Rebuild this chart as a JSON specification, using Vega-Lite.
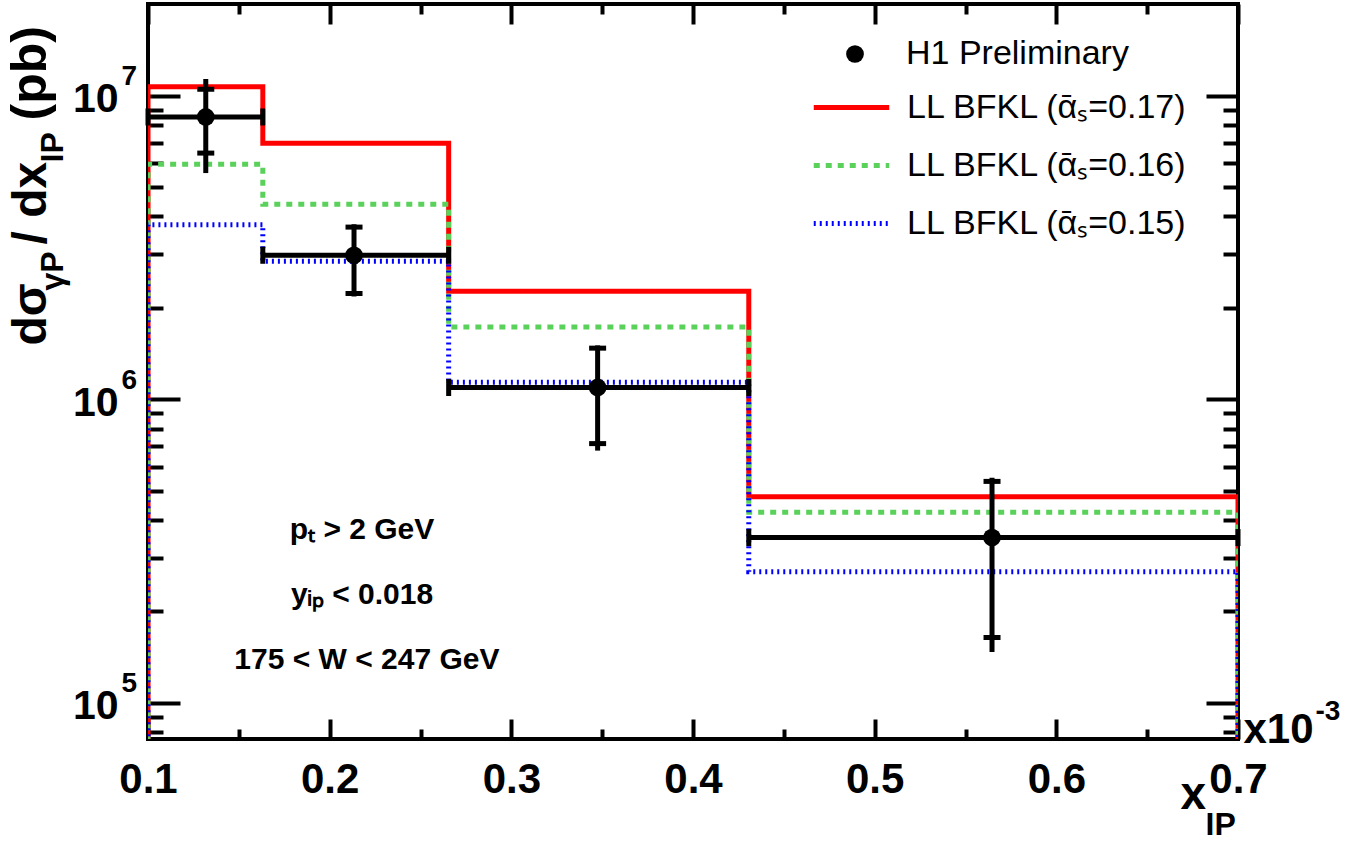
{
  "$schema": "https://vega.github.io/schema/vega-lite/v6.json",
  "width": 1090,
  "height": 735,
  "autosize": "none",
  "padding": {"left": 148, "top": 4, "right": 134, "bottom": 103},
  "background": "#ffffff",
  "datasets": {
    "hist": [
      {"series": "LL BFKL (ᾱₛ=0.17)", "i": 0, "xe": 0.1, "v": 10000},
      {"series": "LL BFKL (ᾱₛ=0.17)", "i": 1, "xe": 0.1, "v": 10710000},
      {"series": "LL BFKL (ᾱₛ=0.17)", "i": 2, "xe": 0.1632, "v": 6970000},
      {"series": "LL BFKL (ᾱₛ=0.17)", "i": 3, "xe": 0.2655, "v": 2270000},
      {"series": "LL BFKL (ᾱₛ=0.17)", "i": 4, "xe": 0.4307, "v": 477000},
      {"series": "LL BFKL (ᾱₛ=0.17)", "i": 5, "xe": 0.7, "v": 477000},
      {"series": "LL BFKL (ᾱₛ=0.17)", "i": 6, "xe": 0.7, "v": 10000},
      {"series": "LL BFKL (ᾱₛ=0.16)", "i": 0, "xe": 0.1, "v": 10000},
      {"series": "LL BFKL (ᾱₛ=0.16)", "i": 1, "xe": 0.1, "v": 5940000},
      {"series": "LL BFKL (ᾱₛ=0.16)", "i": 2, "xe": 0.1632, "v": 4390000},
      {"series": "LL BFKL (ᾱₛ=0.16)", "i": 3, "xe": 0.2655, "v": 1728000},
      {"series": "LL BFKL (ᾱₛ=0.16)", "i": 4, "xe": 0.4307, "v": 424000},
      {"series": "LL BFKL (ᾱₛ=0.16)", "i": 5, "xe": 0.7, "v": 424000},
      {"series": "LL BFKL (ᾱₛ=0.16)", "i": 6, "xe": 0.7, "v": 10000},
      {"series": "LL BFKL (ᾱₛ=0.15)", "i": 0, "xe": 0.1, "v": 10000},
      {"series": "LL BFKL (ᾱₛ=0.15)", "i": 1, "xe": 0.1, "v": 3760000},
      {"series": "LL BFKL (ᾱₛ=0.15)", "i": 2, "xe": 0.1632, "v": 2850000},
      {"series": "LL BFKL (ᾱₛ=0.15)", "i": 3, "xe": 0.2655, "v": 1138000},
      {"series": "LL BFKL (ᾱₛ=0.15)", "i": 4, "xe": 0.4307, "v": 270000},
      {"series": "LL BFKL (ᾱₛ=0.15)", "i": 5, "xe": 0.7, "v": 270000},
      {"series": "LL BFKL (ᾱₛ=0.15)", "i": 6, "xe": 0.7, "v": 10000}
    ],
    "meas": [
      {"label": "H1 Preliminary", "x": 0.1318, "lo": 0.1, "hi": 0.1632, "v": 8510000, "stat_lo": 6470000, "stat_hi": 10500000, "tot_lo": 5560000, "tot_hi": 11350000},
      {"label": "H1 Preliminary", "x": 0.2134, "lo": 0.1632, "hi": 0.2655, "v": 2980000, "stat_lo": 2230000, "stat_hi": 3690000, "tot_lo": 2180000, "tot_hi": 3770000},
      {"label": "H1 Preliminary", "x": 0.3475, "lo": 0.2655, "hi": 0.4307, "v": 1093000, "stat_lo": 714000, "stat_hi": 1473000, "tot_lo": 677000, "tot_hi": 1504000},
      {"label": "H1 Preliminary", "x": 0.5646, "lo": 0.4307, "hi": 0.7, "v": 350000, "stat_lo": 164000, "stat_hi": 536000, "tot_lo": 147000, "tot_hi": 551000}
    ],
    "notes": [
      {"x": 0.2178, "y": 371000, "text": "pₜ > 2 GeV"},
      {"x": 0.2178, "y": 226700, "text": "yᵢₚ < 0.018"},
      {"x": 0.2205, "y": 138500, "text": "175 < W < 247 GeV"}
    ]
  },
  "resolve": {"axis": {"x": "independent", "y": "independent"}},
  "layer": [
    {
      "data": {"name": "hist"},
      "mark": {"type": "line", "interpolate": "step-after", "strokeWidth": 5, "strokeCap": "butt", "clip": true},
      "encoding": {
        "x": {"field": "xe", "type": "quantitative",
          "scale": {"domain": [0.1, 0.7], "nice": false, "zero": false},
          "axis": {"orient": "bottom", "values": [0.1, 0.2, 0.3, 0.4, 0.5, 0.6, 0.7], "format": ".1f", "tickSize": -20, "labelFlush": false, "labelPadding": 40, "labelFontSize": 42, "labelBaseline": "top", "title": "x", "titleFontSize": 46, "titleX": 1032, "titleY": 69, "titleAlign": "left", "titleBaseline": "alphabetic", "titleAnchor": null}},
        "y": {"field": "v", "type": "quantitative",
          "scale": {"type": "log", "domain": [75930, 20050000], "nice": false},
          "axis": {"orient": "left", "values": [100000, 1000000, 10000000], "tickSize": -32, "labelPadding": 62, "labelFontSize": 41, "labelOffset": 4, "labelBaseline": "middle", "labelExpr": "'10'", "title": "dσ", "titleFontSize": 48, "titleX": -103, "titleY": 341, "titleAngle": 270, "titleAlign": "left", "titleBaseline": "alphabetic", "titleAnchor": null}},
        "order": {"field": "i", "type": "quantitative"},
        "color": {"field": "series", "type": "nominal",
          "scale": {"domain": ["LL BFKL (ᾱₛ=0.17)", "LL BFKL (ᾱₛ=0.16)", "LL BFKL (ᾱₛ=0.15)"], "range": ["#ff0000", "#5ad15a", "#0000ff"]},
          "legend": {"orient": "none", "legendX": 663, "legendY": 63, "title": null, "symbolType": "stroke", "symbolSize": 5700, "symbolStrokeWidth": 5, "labelFont": "Liberation Sans", "labelFontSize": 34, "labelColor": "#000", "labelOffset": 15, "rowPadding": 0}},
        "strokeDash": {"field": "series", "type": "nominal",
          "scale": {"domain": ["LL BFKL (ᾱₛ=0.17)", "LL BFKL (ᾱₛ=0.16)", "LL BFKL (ᾱₛ=0.15)"], "range": [[1, 0], [6, 6], [2, 4]]},
          "legend": {"orient": "none", "legendX": 663, "legendY": 63, "title": null, "symbolType": "stroke", "symbolSize": 5700, "symbolStrokeWidth": 5, "labelFont": "Liberation Sans", "labelFontSize": 34, "labelColor": "#000", "labelOffset": 15, "rowPadding": 0}}
      }
    },
    {
      "data": {"name": "meas"},
      "mark": {"type": "rule", "strokeWidth": 5, "color": "#000"},
      "encoding": {
        "x": {"field": "lo", "type": "quantitative",
          "scale": {"domain": [0.1, 0.7], "nice": false, "zero": false},
          "axis": {"orient": "bottom", "values": [0.15, 0.25, 0.35, 0.45, 0.55, 0.65], "tickSize": -10, "labels": false, "title": "IP", "titleFontSize": 32, "titleX": 1057, "titleY": 95, "titleAlign": "left", "titleBaseline": "alphabetic", "titleAnchor": null}},
        "x2": {"field": "hi"},
        "y": {"field": "v", "type": "quantitative",
          "scale": {"type": "log", "domain": [75930, 20050000], "nice": false},
          "axis": {"orient": "left", "values": [80000, 90000, 200000, 300000, 400000, 500000, 600000, 700000, 800000, 900000, 2000000, 3000000, 4000000, 5000000, 6000000, 7000000, 8000000, 9000000], "tickSize": -15, "labels": false, "title": "γP", "titleFontSize": 32, "titleX": -86, "titleY": 286, "titleAngle": 270, "titleAlign": "left", "titleBaseline": "alphabetic", "titleAnchor": null}}
      }
    },
    {
      "data": {"name": "meas"},
      "mark": {"type": "rule", "strokeWidth": 5, "color": "#000"},
      "encoding": {
        "x": {"field": "x", "type": "quantitative",
          "scale": {"domain": [0.1, 0.7], "nice": false, "zero": false},
          "axis": {"orient": "top", "values": [0.1, 0.2, 0.3, 0.4, 0.5, 0.6, 0.7], "tickSize": -20, "labels": false, "title": null}},
        "y": {"field": "tot_lo", "type": "quantitative",
          "scale": {"type": "log", "domain": [75930, 20050000], "nice": false},
          "axis": {"orient": "right", "values": [100000, 1000000, 10000000], "tickSize": -32, "labels": false, "title": null}},
        "y2": {"field": "tot_hi"}
      }
    },
    {
      "data": {"name": "meas"},
      "transform": [{"fold": ["stat_lo", "stat_hi"], "as": ["kind", "sv"]}],
      "mark": {"type": "tick", "orient": "horizontal", "size": 17, "thickness": 5, "color": "#000", "opacity": 1},
      "encoding": {
        "x": {"field": "x", "type": "quantitative",
          "scale": {"domain": [0.1, 0.7], "nice": false, "zero": false},
          "axis": {"orient": "top", "values": [0.15, 0.25, 0.35, 0.45, 0.55, 0.65], "tickSize": -10, "labels": false, "title": null}},
        "y": {"field": "sv", "type": "quantitative",
          "scale": {"type": "log", "domain": [75930, 20050000], "nice": false},
          "axis": {"orient": "right", "values": [80000, 90000, 200000, 300000, 400000, 500000, 600000, 700000, 800000, 900000, 2000000, 3000000, 4000000, 5000000, 6000000, 7000000, 8000000, 9000000], "tickSize": -15, "labels": false, "title": null}}
      }
    },
    {
      "data": {"name": "meas"},
      "transform": [{"fold": ["lo", "hi"], "as": ["end", "ex"]}],
      "mark": {"type": "tick", "orient": "vertical", "size": 17, "thickness": 5, "color": "#000", "opacity": 1},
      "encoding": {
        "x": {"field": "ex", "type": "quantitative", "scale": {"domain": [0.1, 0.7], "nice": false, "zero": false},
          "axis": {"orient": "bottom", "ticks": false, "tickSize": 0, "labels": false, "title": "x10", "titleFontSize": 42, "titleX": 1095, "titleY": 3, "titleAlign": "left", "titleBaseline": "alphabetic", "titleAnchor": null}},
        "y": {"field": "v", "type": "quantitative", "scale": {"type": "log", "domain": [75930, 20050000], "nice": false},
          "axis": {"orient": "left", "values": [100000, 1000000, 10000000], "ticks": false, "tickSize": 0, "labelPadding": 27, "labelAlign": "left", "labelBaseline": "alphabetic", "labelOffset": -11, "labelFontSize": 28, "labelExpr": "datum.value >= 5000000 ? '7' : datum.value >= 500000 ? '6' : '5'", "title": "/ dx", "titleFontSize": 48, "titleX": -103, "titleY": 240, "titleAngle": 270, "titleAlign": "left", "titleBaseline": "alphabetic", "titleAnchor": null}}
      }
    },
    {
      "data": {"name": "meas"},
      "mark": {"type": "point", "filled": true, "size": 314, "color": "#000", "opacity": 1},
      "encoding": {
        "x": {"field": "x", "type": "quantitative", "scale": {"domain": [0.1, 0.7], "nice": false, "zero": false},
          "axis": {"orient": "bottom", "ticks": false, "tickSize": 0, "labels": false, "title": "-3", "titleFontSize": 28, "titleX": 1167, "titleY": -20, "titleAlign": "left", "titleBaseline": "alphabetic", "titleAnchor": null}},
        "y": {"field": "v", "type": "quantitative", "scale": {"type": "log", "domain": [75930, 20050000], "nice": false},
          "axis": {"orient": "left", "ticks": false, "tickSize": 0, "labels": false, "title": "IP", "titleFontSize": 32, "titleX": -86, "titleY": 158, "titleAngle": 270, "titleAlign": "left", "titleBaseline": "alphabetic", "titleAnchor": null}},
        "shape": {"field": "label", "type": "nominal", "scale": {"range": ["circle"]},
          "legend": {"orient": "none", "legendX": 690, "legendY": 33, "title": null, "symbolSize": 314, "symbolFillColor": "#000", "symbolStrokeColor": "#000", "symbolOpacity": 1, "labelFont": "Liberation Sans", "labelFontSize": 34, "labelColor": "#000", "labelOffset": 34}}
      }
    },
    {
      "data": {"name": "notes"},
      "mark": {"type": "text", "font": "Liberation Sans", "fontWeight": "bold", "fontSize": 30, "align": "center", "baseline": "middle", "color": "#000"},
      "encoding": {
        "x": {"field": "x", "type": "quantitative", "scale": {"domain": [0.1, 0.7], "nice": false, "zero": false}, "axis": null},
        "y": {"field": "y", "type": "quantitative", "scale": {"type": "log", "domain": [75930, 20050000], "nice": false},
          "axis": {"orient": "left", "ticks": false, "tickSize": 0, "labels": false, "title": "(pb)", "titleFontSize": 50, "titleX": -103, "titleY": 116, "titleAngle": 270, "titleAlign": "left", "titleBaseline": "alphabetic", "titleAnchor": null}},
        "text": {"field": "text"}
      }
    }
  ],
  "config": {
    "view": {"stroke": "#000000", "strokeWidth": 4},
    "axis": {"domain": false, "grid": false, "tickColor": "#000000", "tickWidth": 4, "labelFont": "Liberation Sans", "labelFontWeight": "bold", "labelColor": "#000000", "titleFont": "Liberation Sans", "titleFontWeight": "bold", "titleColor": "#000000"},
    "legend": {"labelLimit": 0}
  }
}
